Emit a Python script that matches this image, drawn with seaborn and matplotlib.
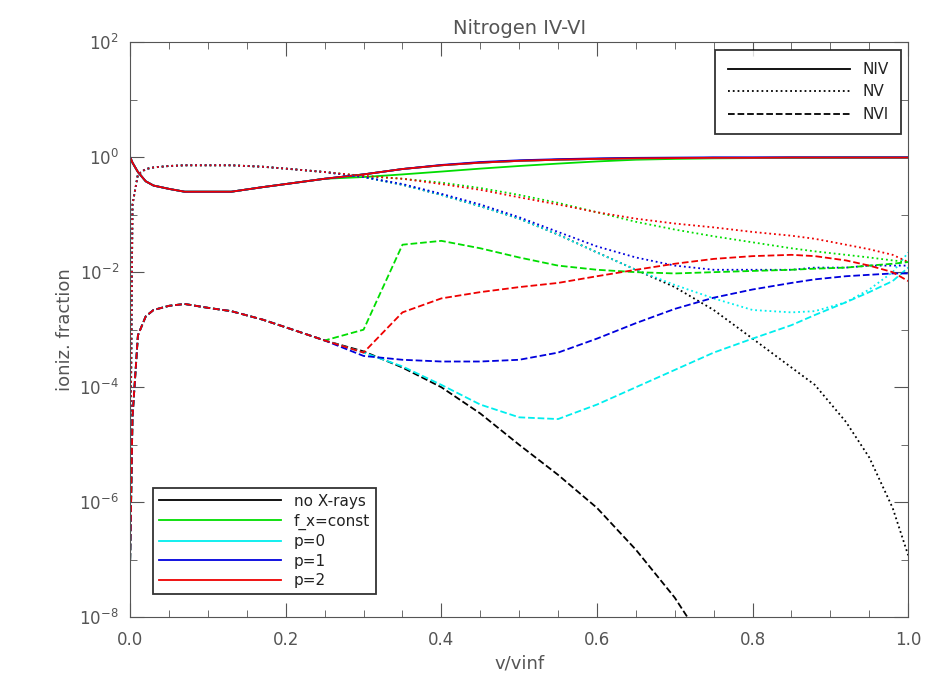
import numpy as np
import pandas as pd
import seaborn as sns
import matplotlib
matplotlib.use('Agg')
import matplotlib.pyplot as plt
from matplotlib.lines import Line2D

# Shared inner part of the wind (all models agree here)
x_in = [0.0, 0.003, 0.01, 0.02, 0.03, 0.05, 0.07, 0.1, 0.13, 0.17, 0.2, 0.25]
niv_in = [1.0, 0.8, 0.55, 0.38, 0.32, 0.28, 0.25, 0.25, 0.25, 0.3, 0.34, 0.42]
nv_in = [1e-6, 0.15, 0.5, 0.62, 0.66, 0.7, 0.72, 0.72, 0.72, 0.68, 0.63, 0.55]
nvi_in = [1e-7, 3e-5, 8e-4, 1.7e-3, 2.2e-3, 2.6e-3, 2.8e-3, 2.4e-3, 2.1e-3, 1.5e-3, 1.1e-3, 6.5e-4]

# Outer part, per model
x_out = [0.3, 0.35, 0.4, 0.45, 0.5, 0.55, 0.6, 0.65, 0.7, 0.75, 0.8, 0.85, 0.88, 0.92, 0.95, 0.98, 1.0]

niv = {
    'no X-rays': [0.5, 0.62, 0.72, 0.8, 0.86, 0.9, 0.93, 0.95, 0.96, 0.97, 0.97, 0.98, 0.98, 0.98, 0.98, 0.98, 0.98],
    'f_x=const': [0.45, 0.5, 0.56, 0.63, 0.7, 0.77, 0.84, 0.9, 0.93, 0.95, 0.96, 0.97, 0.97, 0.98, 0.98, 0.98, 0.98],
    'p=0':       [0.5, 0.62, 0.72, 0.8, 0.86, 0.9, 0.93, 0.95, 0.96, 0.97, 0.97, 0.98, 0.98, 0.98, 0.98, 0.98, 0.98],
    'p=1':       [0.5, 0.62, 0.73, 0.82, 0.88, 0.92, 0.95, 0.97, 0.98, 0.99, 0.99, 0.99, 0.99, 0.99, 0.99, 0.99, 0.99],
    'p=2':       [0.5, 0.62, 0.72, 0.8, 0.86, 0.9, 0.93, 0.95, 0.96, 0.97, 0.97, 0.98, 0.98, 0.98, 0.98, 0.98, 0.98],
}
nv = {
    'no X-rays': [0.45, 0.33, 0.22, 0.14, 0.085, 0.045, 0.022, 0.011, 5.5e-3, 2.2e-3, 7e-4, 2.2e-4, 1.1e-4, 2.5e-5, 6e-6, 8e-7, 1.2e-7],
    'f_x=const': [0.47, 0.42, 0.36, 0.29, 0.22, 0.16, 0.11, 0.075, 0.055, 0.042, 0.033, 0.026, 0.023, 0.02, 0.018, 0.016, 0.015],
    'p=0':       [0.45, 0.33, 0.22, 0.14, 0.085, 0.045, 0.022, 0.011, 6e-3, 3.5e-3, 2.2e-3, 2e-3, 2.1e-3, 3e-3, 5e-3, 1e-2, 2.2e-2],
    'p=1':       [0.45, 0.34, 0.23, 0.15, 0.09, 0.05, 0.028, 0.018, 0.013, 0.011, 0.011, 0.011, 0.012, 0.012, 0.013, 0.013, 0.013],
    'p=2':       [0.47, 0.42, 0.34, 0.27, 0.2, 0.15, 0.11, 0.085, 0.07, 0.06, 0.05, 0.043, 0.038, 0.03, 0.025, 0.02, 0.015],
}
nvi = {
    'no X-rays': [4.2e-4, 2.2e-4, 1e-4, 3.5e-5, 1e-5, 3e-6, 8e-7, 1.5e-7, 2.2e-8, 2e-9, 2e-10, 3e-11, 1e-11, 5e-12, 3e-12, 2e-12, 1e-12],
    'f_x=const': [1e-3, 3e-2, 3.5e-2, 2.6e-2, 1.8e-2, 1.3e-2, 1.1e-2, 1e-2, 9.5e-3, 1e-2, 1.05e-2, 1.1e-2, 1.15e-2, 1.2e-2, 1.3e-2, 1.4e-2, 1.5e-2],
    'p=0':       [4e-4, 2.3e-4, 1.1e-4, 5e-5, 3e-5, 2.8e-5, 5e-5, 1e-4, 2e-4, 4e-4, 7e-4, 1.2e-3, 1.8e-3, 3e-3, 4.5e-3, 7e-3, 1.2e-2],
    'p=1':       [3.5e-4, 3e-4, 2.8e-4, 2.8e-4, 3e-4, 4e-4, 7e-4, 1.3e-3, 2.3e-3, 3.6e-3, 5e-3, 6.5e-3, 7.5e-3, 8.5e-3, 9e-3, 9.5e-3, 9.5e-3],
    'p=2':       [4e-4, 2e-3, 3.5e-3, 4.5e-3, 5.5e-3, 6.5e-3, 8.5e-3, 1.1e-2, 1.4e-2, 1.7e-2, 1.9e-2, 2e-2, 1.9e-2, 1.6e-2, 1.3e-2, 1e-2, 7e-3],
}

models = ['no X-rays', 'f_x=const', 'p=0', 'p=1', 'p=2']
colors = ['black', '#00dd00', '#00eeee', '#0000dd', '#ee0000']
grey = '#555555'

plt.rcParams.update({'font.family': 'DejaVu Sans', 'text.color': grey,
                     'axes.labelcolor': grey, 'xtick.color': grey, 'ytick.color': grey,
                     'axes.edgecolor': grey})
fig, ax = plt.subplots(figsize=(9.5, 7), dpi=100)
fig.subplots_adjust(left=0.137, right=0.956, top=0.94, bottom=0.118)

for ion, data, inner, ls in [('NIV', niv, niv_in, '-'), ('NV', nv, nv_in, ':'), ('NVI', nvi, nvi_in, '--')]:
    for m, c in zip(models, colors):
        df = pd.DataFrame({'x': x_in + x_out, 'y': inner + data[m]})
        sns.lineplot(data=df, x='x', y='y', ax=ax, color=c, linestyle=ls,
                     linewidth=1.3, sort=False, estimator=None)

ax.set_yscale('log')
ax.set_xlim(0, 1.0)
ax.set_ylim(1e-8, 1e2)
ax.yaxis.set_major_locator(matplotlib.ticker.FixedLocator([1e-8, 1e-6, 1e-4, 1e-2, 1e0, 1e2]))
ax.yaxis.set_minor_locator(matplotlib.ticker.FixedLocator([1e-7, 1e-5, 1e-3, 1e-1, 1e1]))
ax.yaxis.set_minor_formatter(matplotlib.ticker.NullFormatter())
ax.set_xticks(np.arange(0, 1.01, 0.2))
ax.set_xticklabels(['0.0', '0.2', '0.4', '0.6', '0.8', '1.0'])
ax.xaxis.set_minor_locator(matplotlib.ticker.MultipleLocator(0.05))
ax.tick_params(which='both', direction='in', top=True, right=True, labelsize=12)
ax.tick_params(which='major', length=10)
ax.tick_params(which='minor', length=5)
ax.tick_params(axis='x', pad=10)
ax.tick_params(axis='y', pad=8)
ax.set_xlabel('v/vinf', fontsize=13)
ax.set_ylabel('ioniz. fraction', fontsize=13)
ax.set_title('Nitrogen IV-VI', fontsize=14, color=grey)

ion_handles = [Line2D([], [], color='black', ls=s, lw=1.3) for s in ['-', ':', '--']]
leg1 = ax.legend(ion_handles, ['NIV', 'NV', 'NVI'], loc='upper right', fontsize=11,
                 fancybox=False, edgecolor='black', handlelength=8, borderpad=0.8)
leg1.get_frame().set_linewidth(1.3)
ax.add_artist(leg1)
mod_handles = [Line2D([], [], color=c, lw=1.3) for c in colors]
leg2 = ax.legend(mod_handles, models, loc='lower left', fontsize=11, fancybox=False,
                 edgecolor='black', handlelength=8, labelspacing=0.3, borderaxespad=1.5)
leg2.get_frame().set_linewidth(1.3)
for t in leg1.get_texts() + leg2.get_texts():
    t.set_color('#222222')

fig.savefig('out.png', dpi=100)
